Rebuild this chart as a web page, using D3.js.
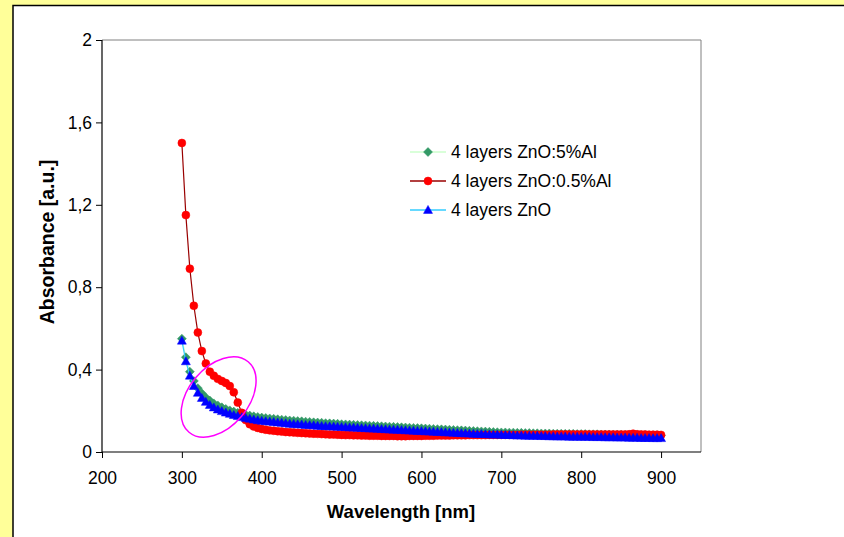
<!DOCTYPE html>
<html><head><meta charset="utf-8">
<script src="https://cdn.jsdelivr.net/npm/d3@7"></script>
<style>
html,body{margin:0;padding:0;background:#FFFF99;}
svg{display:block;font-family:"Liberation Sans",Arial,sans-serif;}
</style></head>
<body>
<svg id="chart" width="844" height="537"></svg>
<script>
const wavelength = [300,305,310,315,320,325,330,335,340,345,350,355,360,365,370,375,380,385,390,395,400,
405,410,415,420,425,430,435,440,445,450,455,460,465,470,475,480,485,490,495,500,
505,510,515,520,525,530,535,540,545,550,555,560,565,570,575,580,585,590,595,600,
605,610,615,620,625,630,635,640,645,650,655,660,665,670,675,680,685,690,695,700,
705,710,715,720,725,730,735,740,745,750,755,760,765,770,775,780,785,790,795,800,
805,810,815,820,825,830,835,840,845,850,855,860,865,870,875,880,885,890,895,900];

const seriesNames = ["4 layers ZnO:5%Al","4 layers ZnO:0.5%Al","4 layers ZnO"];

const znoAl5 = [0.55,0.46,0.39,0.345,0.31,0.285,0.265,0.25,0.236,0.226,0.217,0.209,0.202,0.196,0.19,0.185,0.181,0.177,0.173,0.17,0.167,
0.165,0.163,0.161,0.159,0.157,0.155,0.153,0.152,0.15,0.149,0.147,0.146,0.144,0.143,0.142,0.14,0.139,0.138,0.137,0.135,
0.134,0.133,0.132,0.131,0.13,0.129,0.128,0.127,0.126,0.125,0.124,0.123,0.122,0.121,0.12,0.119,0.118,0.117,0.116,0.115,
0.114,0.113,0.112,0.111,0.11,0.109,0.108,0.107,0.106,0.105,0.104,0.103,0.102,0.101,0.1,0.099,0.098,0.097,0.096,0.095,
0.095,0.094,0.094,0.093,0.093,0.092,0.092,0.091,0.091,0.09,0.09,0.09,0.089,0.089,0.089,0.088,0.088,0.088,0.087,0.087,
0.087,0.086,0.086,0.086,0.085,0.085,0.085,0.084,0.084,0.084,0.083,0.083,0.083,0.082,0.082,0.082,0.081,0.081,0.081,0.08];

const znoAl05 = [1.50,1.15,0.89,0.71,0.58,0.49,0.43,0.39,0.37,0.355,0.345,0.335,0.32,0.29,0.24,0.19,0.155,0.135,0.124,0.117,0.112,
0.108,0.105,0.103,0.101,0.099,0.097,0.096,0.095,0.093,0.092,0.091,0.09,0.089,0.088,0.087,0.086,0.085,0.085,0.084,0.083,
0.082,0.082,0.081,0.081,0.080,0.080,0.079,0.079,0.079,0.078,0.078,0.078,0.078,0.077,0.077,0.077,0.078,0.078,0.078,0.078,
0.079,0.079,0.079,0.080,0.080,0.080,0.080,0.081,0.081,0.081,0.081,0.082,0.082,0.082,0.082,0.082,0.083,0.083,0.083,0.083,
0.083,0.083,0.083,0.083,0.084,0.084,0.084,0.084,0.084,0.084,0.084,0.084,0.085,0.085,0.085,0.085,0.085,0.085,0.085,0.085,
0.085,0.085,0.085,0.085,0.085,0.085,0.085,0.085,0.085,0.085,0.085,0.086,0.089,0.086,0.085,0.085,0.084,0.084,0.084,0.083];

const zno = [0.54,0.44,0.37,0.32,0.287,0.262,0.243,0.228,0.216,0.206,0.198,0.191,0.185,0.179,0.174,0.169,0.165,0.161,0.157,0.154,0.151,
0.149,0.147,0.145,0.143,0.141,0.139,0.137,0.136,0.134,0.133,0.131,0.13,0.129,0.127,0.126,0.125,0.124,0.123,0.122,0.121,
0.12,0.119,0.118,0.117,0.116,0.115,0.114,0.113,0.112,0.111,0.11,0.109,0.108,0.107,0.106,0.105,0.104,0.103,0.102,0.101,
0.1,0.099,0.098,0.097,0.096,0.095,0.094,0.093,0.092,0.091,0.09,0.089,0.088,0.087,0.087,0.086,0.085,0.084,0.084,0.083,
0.082,0.082,0.081,0.08,0.08,0.079,0.079,0.078,0.078,0.077,0.077,0.076,0.076,0.075,0.075,0.075,0.074,0.074,0.074,0.073,
0.073,0.073,0.072,0.072,0.072,0.071,0.071,0.071,0.07,0.07,0.07,0.069,0.069,0.069,0.068,0.068,0.068,0.067,0.067,0.067];

const xTicks = [200,300,400,500,600,700,800,900];
const yTicks = [0,0.4,0.8,1.2,1.6,2];
const yTickLabels = ["0","0,4","0,8","1,2","1,6","2"];
const annotation = {x: 346, y: 0.267};

const svg = d3.select("#chart");
// outer panel
svg.append("rect").attr("x",0).attr("y",0).attr("width",844).attr("height",537).attr("fill","#FFFF99");
svg.append("rect").attr("x",13).attr("y",5.5).attr("width",860).attr("height",560)
  .attr("fill","#fff").attr("stroke","#000").attr("stroke-width",1.5);

const x = d3.scaleLinear().domain([200,950]).range([102,701]);
const y = d3.scaleLinear().domain([0,2]).range([452,40]);

// plot border top/right
svg.append("path").attr("d",`M${x(200)},${y(2)}H${x(950)}V${y(0)}`)
  .attr("fill","none").attr("stroke","#808080").attr("stroke-width",1);

// axes
const xAxis = d3.axisBottom(x).tickValues(xTicks).tickSize(6).tickPadding(14).tickFormat(d3.format("d"));
const gx = svg.append("g").attr("transform",`translate(0,${y(0)})`).call(xAxis);
const yAxis = d3.axisLeft(y).tickValues(yTicks).tickSize(6).tickPadding(4).tickFormat((d,i)=>yTickLabels[i]);
const gy = svg.append("g").attr("transform",`translate(${x(200)},0)`).call(yAxis);
[gx,gy].forEach(g=>{
  g.select(".domain").attr("stroke","#000").attr("stroke-width",1.2);
  g.selectAll(".tick line").attr("stroke","#000");
  g.selectAll(".tick text").attr("fill","#000").style("font-size","17.5px").style("font-family","'Liberation Sans',Arial,sans-serif");
});
gx.select(".domain").attr("d",`M${x(200)},0H${x(950)}`);
gy.select(".domain").attr("d",`M0,${y(0)}V${y(2)}`);

// axis titles
svg.append("text").attr("x",401).attr("y",518).attr("text-anchor","middle")
  .style("font-size","18.5px").style("font-weight","bold").text("Wavelength [nm]");
svg.append("text").attr("transform","translate(54,242) rotate(-90)").attr("text-anchor","middle")
  .style("font-size","19.5px").style("font-weight","bold").text("Absorbance [a.u.]");

const series = [
  {name: seriesNames[0], values: znoAl5, line: "#CCFFCC", marker: "#339966", sym: "diamond"},
  {name: seriesNames[1], values: znoAl05, line: "#990000", marker: "#FF0000", sym: "circle"},
  {name: seriesNames[2], values: zno, line: "#33CCFF", marker: "#0000FF", sym: "triangle"}
];
function symPath(s){
  if(s==="diamond") return "M0,-4.5L4.5,0L0,4.5L-4.5,0Z";
  if(s==="circle") return d3.symbol(d3.symbolCircle, 50)();
  return "M0,-4.6L4.5,3.4L-4.5,3.4Z";
}
const line = d3.line().x((d,i)=>x(wavelength[i])).y(d=>y(d));
series.forEach(s=>{
  const g = svg.append("g");
  g.append("path").attr("d",line(s.values)).attr("fill","none").attr("stroke",s.line).attr("stroke-width",1.2);
  g.selectAll("path.m").data(s.values).join("path").attr("class","m")
    .attr("d",symPath(s.sym))
    .attr("transform",(d,i)=>`translate(${x(wavelength[i])},${y(d)})`)
    .attr("fill",s.marker).attr("stroke",s.marker).attr("stroke-width",0.5);
});

// annotation ellipse
svg.append("ellipse").attr("cx",0).attr("cy",0).attr("rx",46).attr("ry",30)
  .attr("transform",`translate(${x(annotation.x)},${y(annotation.y)}) rotate(-50)`)
  .attr("fill","none").attr("stroke","#FF00FF").attr("stroke-width",1.5);

// legend
const lg = svg.append("g");
series.forEach((s,i)=>{
  const yy = 152 + i*29;
  lg.append("line").attr("x1",410).attr("x2",446).attr("y1",yy).attr("y2",yy).attr("stroke",s.line).attr("stroke-width",1.5);
  lg.append("path").attr("d",symPath(s.sym)).attr("transform",`translate(428,${yy})`).attr("fill",s.marker).attr("stroke",s.marker).attr("stroke-width",0.5);
  lg.append("text").attr("x",451).attr("y",yy+6).style("font-size","17.5px").text(s.name);
});
</script>
</body></html>
